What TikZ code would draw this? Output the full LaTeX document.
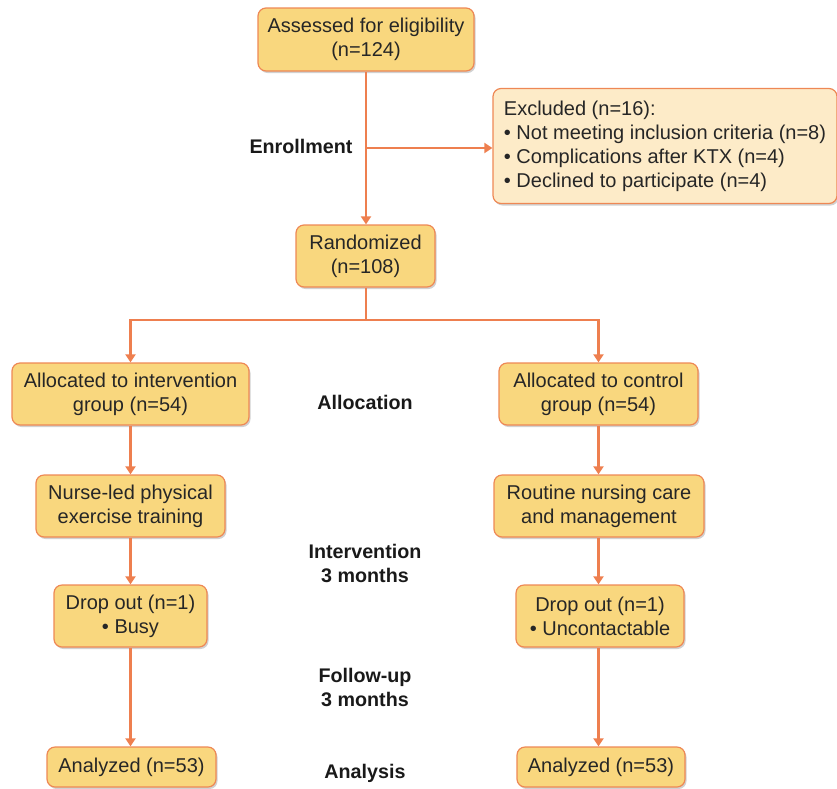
\documentclass[tikz,border=0pt]{standalone}
\usepackage{fontspec}
\setmainfont{Liberation Sans}
\usetikzlibrary{arrows.meta,shadows}
\definecolor{boxfill}{HTML}{F9D77E}
\definecolor{boxline}{HTML}{EE8855}
\definecolor{exfill}{HTML}{FDEBC8}
\definecolor{arrowc}{HTML}{EE7F4F}
\begin{document}
\begin{tikzpicture}[x=1pt,y=-1pt,
  box/.style={draw=boxline, line width=1.2pt, fill=boxfill, rounded corners=8pt,
    align=center, inner sep=0pt, font=\fontsize{20}{24}\selectfont, text=black!85,
    drop shadow={shadow xshift=1.5pt, shadow yshift=-2pt, fill=black!30, opacity=0.6}},
  lbl/.style={font=\fontsize{19.7}{24}\selectfont\bfseries, align=center, text=black!90},
  conn/.style={draw=arrowc, line width=2.3pt},
  arr/.style={conn, -{Triangle[width=10pt,length=8pt]}}]
\useasboundingbox (0,0) rectangle (837,788);
\node[box, minimum width=216pt, minimum height=63pt] (assess) at (366,39.5) {Assessed for eligibility\\(n=124)};
\node[box, fill=exfill, minimum width=344pt, minimum height=115pt, align=left] (excl) at (665,146)
  {Excluded (n=16):\\\textbullet{} Not meeting inclusion criteria (n=8)\\\textbullet{} Complications after KTX (n=4)\\\textbullet{} Declined to participate (n=4)};
\node[box, minimum width=139pt, minimum height=62pt] (rand) at (365.5,256) {Randomized\\(n=108)};
\node[box, minimum width=237pt, minimum height=62pt] (alI) at (130.5,394) {Allocated to intervention\\group (n=54)};
\node[box, minimum width=199pt, minimum height=62pt] (alC) at (598.5,394) {Allocated to control\\group (n=54)};
\node[box, minimum width=189pt, minimum height=62pt] (nurse) at (130.5,506) {Nurse-led physical\\exercise training};
\node[box, minimum width=210pt, minimum height=62pt] (rout) at (599,506) {Routine nursing care\\and management};
\node[box, minimum width=153pt, minimum height=62pt] (dropL) at (130.5,616) {Drop out (n=1)\\\textbullet{} Busy};
\node[box, minimum width=168pt, minimum height=62pt] (dropR) at (600,616) {Drop out (n=1)\\\textbullet{} Uncontactable};
\node[box, minimum width=169pt, minimum height=40pt] (anL) at (131.5,767) {Analyzed (n=53)};
\node[box, minimum width=168pt, minimum height=40pt] (anR) at (601,767) {Analyzed (n=53)};
\node[lbl] (enr) at (301,146) {Enrollment};
\node[lbl] (allo) at (365,402) {Allocation};
\node[lbl] (interv) at (365,563) {Intervention\\3 months};
\node[lbl] (fu) at (365,687) {Follow-up\\3 months};
\node[lbl] (ana) at (365,773) {Analysis};
\coordinate (br) at (366,148);
\coordinate (sp) at (366,320);
\draw[arr] (assess.south -| br) -- (rand.north -| br);
\draw[arr] (br) -- (excl.west |- br);
\draw[conn] (rand.south -| sp) -- (sp);
\draw[arr] (sp) -| (alI.north);
\draw[arr] (sp) -| (alC.north);
\draw[arr] (alI) -- (nurse);
\draw[arr] (nurse) -- (dropL);
\draw[arr] (dropL) -- (anL.north -| dropL.south);
\draw[arr] (alC) -- (alC |- rout.north);
\draw[arr] (rout.south -| alC) -- (alC |- dropR.north);
\draw[arr] (dropR.south -| alC) -- (alC |- anR.north);
\end{tikzpicture}
\end{document}
